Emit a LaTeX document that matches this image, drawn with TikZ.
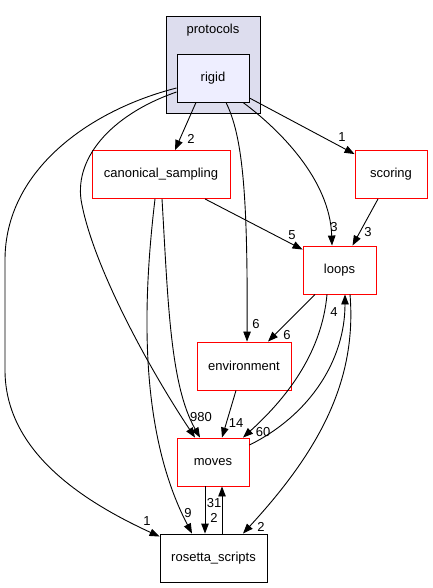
\documentclass[tikz,border=0pt]{standalone}
\usepackage{fontspec}
\setmainfont{Liberation Sans}
\usetikzlibrary{arrows.meta}
\definecolor{clusterfill}{HTML}{DDDDEE}
\definecolor{rigidfill}{HTML}{EEEEFF}
\begin{document}
\begin{tikzpicture}[x=1pt,y=-1pt,
  txt/.style={font=\fontsize{13}{15}\selectfont},
  dirbox/.style={draw=red, line width=0.9pt, minimum width=#1, minimum height=48pt, inner sep=0pt, txt},
  plainbox/.style={draw=black, line width=0.9pt, minimum width=#1, minimum height=48pt, inner sep=0pt, txt},
  dep/.style={-{Triangle[length=10pt,width=7.5pt]}, line width=0.9pt},
  lbl/.style={inner sep=0pt, txt}]
\useasboundingbox (0,0) rectangle (432,588);
% cluster
\node[draw=black, line width=0.9pt, fill=clusterfill, minimum width=94pt, minimum height=97pt, inner sep=0pt] (protocols) at (213,64.5) {};
\node[lbl] (protocolslbl) at (213,30) {protocols};
\node[plainbox=72pt, fill=rigidfill] (rigid) at (213,78) {rigid};
% nodes
\node[dirbox=138pt] (canon) at (161,174.5) {canonical\_sampling};
\node[dirbox=72pt] (scoring) at (391,174.5) {scoring};
\node[dirbox=73pt] (loops) at (339.5,270) {loops};
\node[dirbox=94pt] (env) at (244,366) {environment};
\node[dirbox=72pt] (moves) at (213,462) {moves};
\node[plainbox=107pt] (rosetta) at (213.5,558) {rosetta\_scripts};
% edges
\draw[dep] ([xshift=-17pt]rigid.south) -- ([xshift=14pt]canon.north);
\node[lbl] (l1) at (191,139) {2};
\draw[dep] ([yshift=-20pt]rigid.east) -- ([yshift=-4pt]scoring.north west);
\node[lbl] (l2) at (342,137) {1};
\draw[dep] ([xshift=30pt]rigid.south) .. controls (280,130) and (330,180) .. ([xshift=-7.5pt]loops.north);
\node[lbl] (l3) at (334,227) {3};
\draw[dep] ([xshift=13pt]rigid.south) .. controls (242,135) and (248,190) .. ([xshift=3pt]env.north);
\node[lbl] (l4) at (256,324) {6};
\draw[dep] ([yshift=-14pt]rigid.west) .. controls (110,115) and (72,160) .. (82,205) .. controls (95,270) and (150,370) .. ([xshift=-18pt]moves.north);
\draw[dep] ([yshift=-10pt]rigid.west) .. controls (90,110) and (5,170) .. (5,260) -- (5,370) .. controls (5,450) and (80,500) .. ([yshift=-3pt]rosetta.north west);
\node[lbl] (l5) at (147,521) {1};
\draw[dep] ([xshift=44pt]canon.south) -- ([yshift=-4pt]loops.north west);
\node[lbl] (l6) at (292,235) {5};
\draw[dep] ([xshift=1pt]canon.south) .. controls (168,300) and (170,385) .. ([xshift=-13pt]moves.north);
\node[lbl] (l7) at (201,417) {980};
\draw[dep] ([xshift=-6pt]canon.south) .. controls (143,300) and (138,430) .. ([xshift=-21.5pt]rosetta.north);
\node[lbl] (l8) at (188,513) {9};
\draw[dep] ([xshift=-13pt]scoring.south) -- ([xshift=13pt]loops.north);
\node[lbl] (l9) at (368,232) {3};
\draw[dep] ([xshift=-24.5pt]loops.south) -- ([xshift=24pt]env.north);
\node[lbl] (l10) at (287,335) {6};
\draw[dep] ([xshift=-12.5pt]loops.south) .. controls (322,350) and (290,395) .. ([xshift=30pt]moves.north);
\node[lbl] (l11) at (263,432) {60};
\draw[dep] ([yshift=17pt]moves.east) .. controls (310,415) and (345,360) .. ([xshift=5.5pt]loops.south);
\node[lbl] (l12) at (334,312) {4};
\draw[dep] ([xshift=10.5pt]loops.south) .. controls (357,380) and (320,450) .. ([xshift=29.5pt]rosetta.north);
\node[lbl] (l13) at (261,527) {2};
\draw[dep] ([xshift=-8pt]env.south) -- ([xshift=9pt]moves.north);
\node[lbl] (l14) at (236,423) {14};
\draw[dep] ([xshift=-8pt]moves.south) -- ([xshift=-8.5pt]rosetta.north);
\node[lbl] (l15) at (214,518) {2};
\draw[dep] ([xshift=8.5pt]rosetta.north) -- ([xshift=9pt]moves.south);
\node[lbl] (l16) at (214,503) {31};
\end{tikzpicture}
\end{document}
